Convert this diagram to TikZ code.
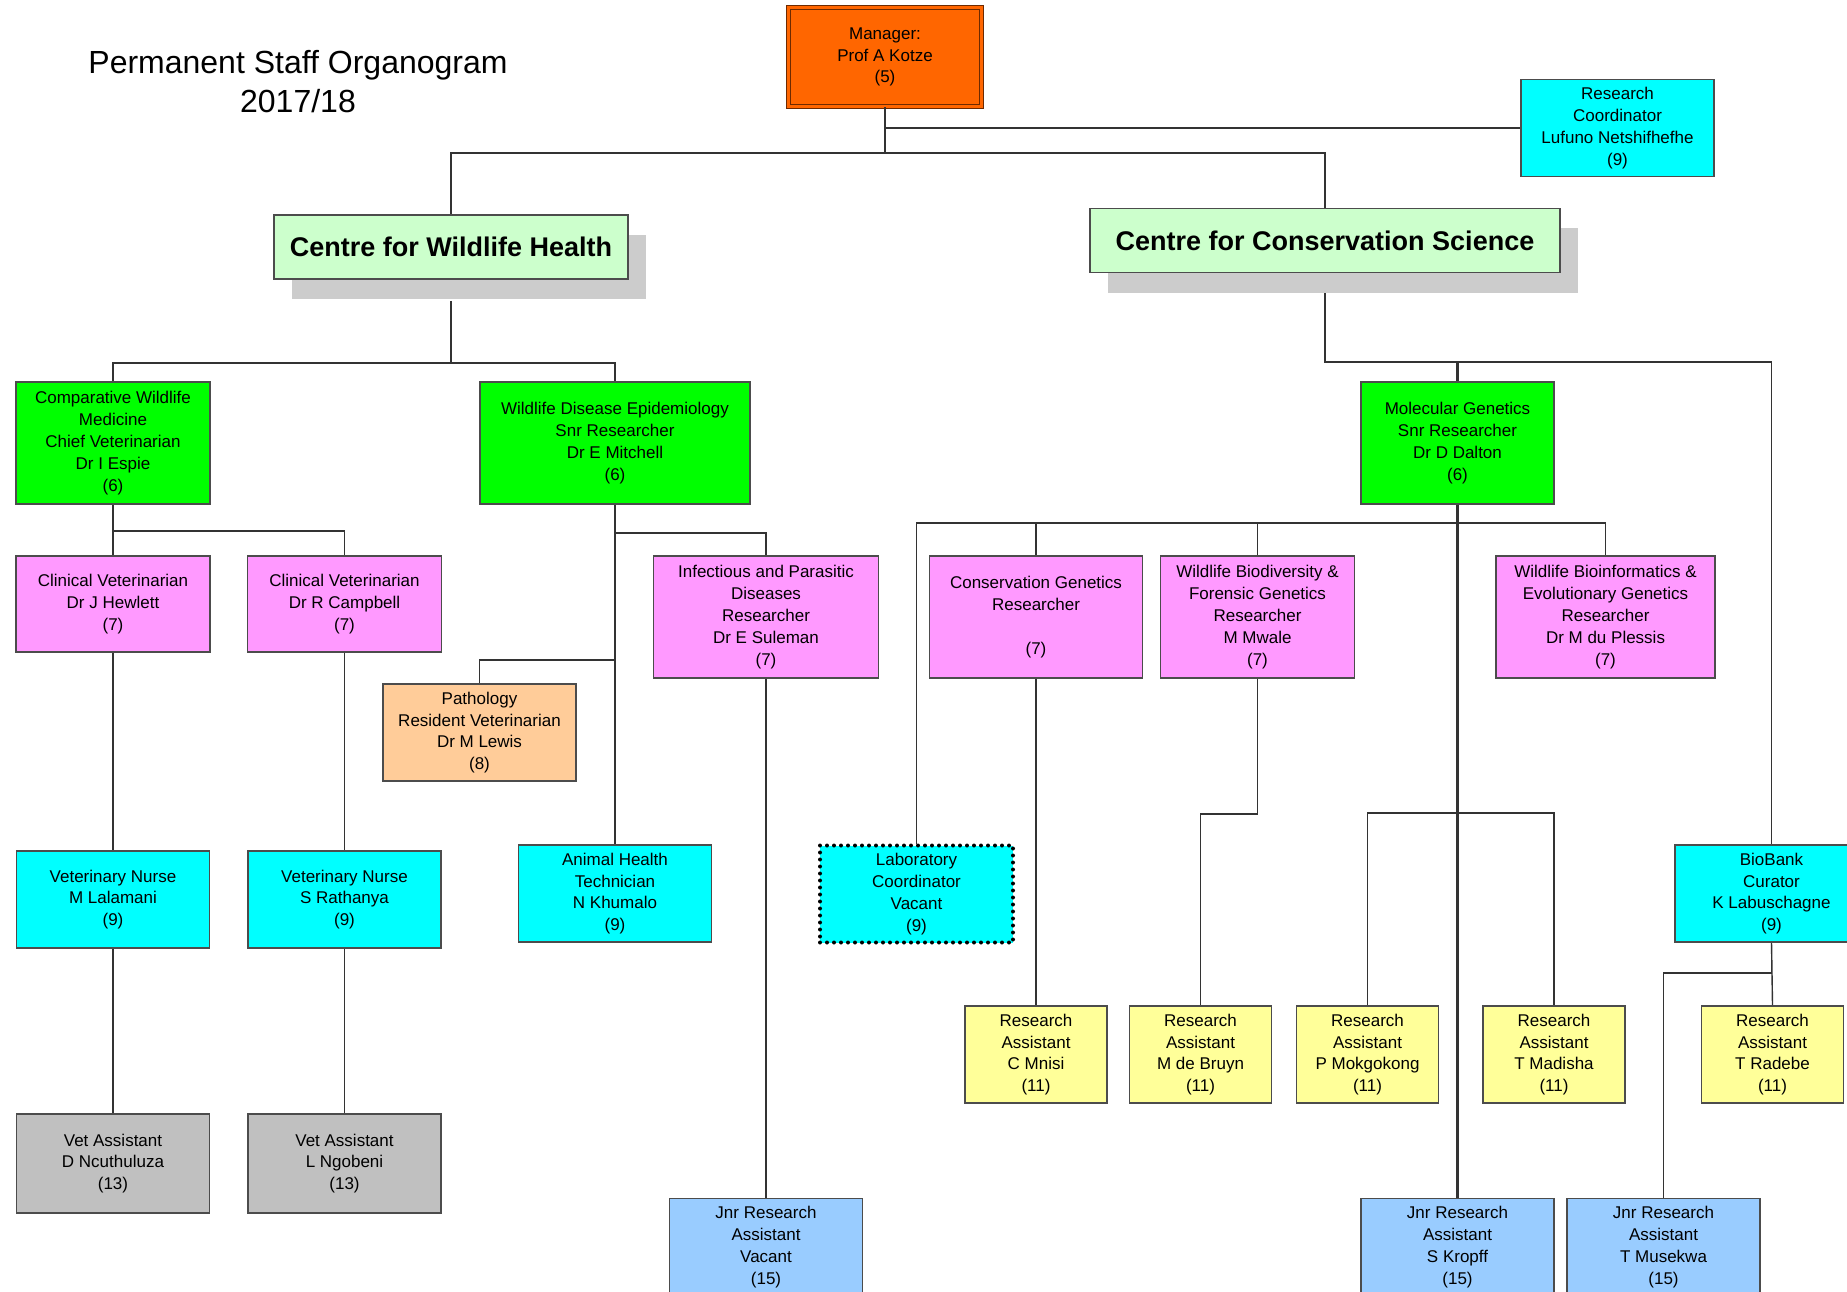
\documentclass[tikz,border=0pt]{standalone}
\usepackage{fontspec}
\setmainfont{Liberation Sans}
\usepackage{tikz}
\usetikzlibrary{shadows}
\definecolor{mgrorange}{HTML}{FF6600}
\definecolor{mgrline}{HTML}{6E2A00}
\definecolor{cyanbox}{HTML}{00FFFF}
\definecolor{greenbox}{HTML}{00FF00}
\definecolor{pinkbox}{HTML}{FF99FF}
\definecolor{peachbox}{HTML}{FFCC99}
\definecolor{yellowbox}{HTML}{FFFF99}
\definecolor{bluebox}{HTML}{99CCFF}
\definecolor{greybox}{HTML}{C0C0C0}
\definecolor{mintbox}{HTML}{CCFFCC}
\newcommand{\postfont}{\fontsize{17}{21.8}\selectfont}

\begin{document}
\begin{tikzpicture}[x=1pt, y=-1pt,
  post/.style   = {draw=black!70, line width=1.6pt, inner sep=0pt, align=center,
                   font=\postfont, minimum width=193pt, minimum height=97pt},
  boss/.style   = {post, fill=mgrorange, draw=mgrline, line width=1.4pt,
                   double=mgrorange, double distance=2.5pt, minimum height=99pt},
  centre/.style = {post, fill=mintbox, minimum height=64pt,
                   font=\fontsize{27}{30}\selectfont\bfseries,
                   drop shadow={shadow xshift=18pt, shadow yshift=-20pt,
                                fill=black!20, opacity=1}},
  head/.style   = {post, fill=greenbox, minimum height=122pt},
  role/.style   = {post, fill=pinkbox, minimum height=122pt},
  clin/.style   = {post, fill=pinkbox, minimum width=194pt, minimum height=96pt},
  tech/.style   = {post, fill=cyanbox},
  vacant/.style = {tech, draw=black, line width=4pt, dash pattern=on 0pt off 7pt,
                   line cap=round},
  vet/.style    = {post, fill=greybox, minimum height=99pt},
  asst/.style   = {post, fill=yellowbox, minimum width=142pt},
  jnr/.style    = {post, fill=bluebox},
  ttl/.style    = {align=center, inner sep=0pt, font=\fontsize{32}{39}\selectfont},
  link/.style   = {draw=black!80, line width=1.4pt},
  trunk/.style  = {link, line width=2.4pt}]
\useasboundingbox (0,0) rectangle (1847,1292);

% --- title ------------------------------------------------------------
\node[ttl] (title) at (298,82) {Permanent Staff Organogram\\2017/18};

% --- top --------------------------------------------------------------
\node[boss]   (mgr) at (885,57)     {Manager:\\Prof A Kotze\\(5)};
\node[tech]   (rc)  at (1617.5,128) {Research\\Coordinator\\Lufuno Netshifhefhe\\(9)};
\node[centre, minimum width=354pt] (cwh) at (451,247)    {Centre for Wildlife Health};
\node[centre, minimum width=470pt] (ccs) at (1325,240.5) {Centre for Conservation Science};

% --- Centre for Wildlife Health ---------------------------------------
\node[head, minimum width=194pt] (cwm) at (113,443)
      {Comparative Wildlife\\Medicine\\Chief Veterinarian\\Dr I Espie\\(6)};
\node[head, minimum width=270pt] (wde) at (615,443)
      {Wildlife Disease Epidemiology\\Snr Researcher\\Dr E Mitchell\\(6)};
\node[clin] (hew) at (113,604)   {Clinical Veterinarian\\Dr J Hewlett\\(7)};
\node[clin] (cam) at (344.5,604) {Clinical Veterinarian\\Dr R Campbell\\(7)};
\node[role, minimum width=225pt] (ipd) at (766,617)
      {Infectious and Parasitic\\Diseases\\Researcher\\Dr E Suleman\\(7)};
\node[post, fill=peachbox] (pat) at (479.5,732.5)
      {Pathology\\Resident Veterinarian\\Dr M Lewis\\(8)};
\node[tech] (nlal) at (113,899.5)   {Veterinary Nurse\\M Lalamani\\(9)};
\node[tech] (nrat) at (344.5,899.5) {Veterinary Nurse\\S Rathanya\\(9)};
\node[tech] (aht)  at (615,893.5)   {Animal Health\\Technician\\N Khumalo\\(9)};
\node[vet]  (vncu) at (113,1163.5)   {Vet Assistant\\D Ncuthuluza\\(13)};
\node[vet]  (vngo) at (344.5,1163.5) {Vet Assistant\\L Ngobeni\\(13)};
\node[jnr]  (jvac) at (766,1247)     {Jnr Research\\Assistant\\Vacant\\(15)};

% --- Centre for Conservation Science ----------------------------------
\node[head] (mg) at (1457.5,443) {Molecular Genetics\\Snr Researcher\\Dr D Dalton\\(6)};
\node[role, minimum width=213pt] (cg) at (1036,617)
      {Conservation Genetics\\Researcher\\\mbox{}\\(7)};
\node[role, minimum width=194pt] (bd) at (1257.5,617)
      {Wildlife Biodiversity \&\\Forensic Genetics\\Researcher\\M Mwale\\(7)};
\node[role, minimum width=219pt] (bif) at (1605.5,617)
      {Wildlife Bioinformatics \&\\Evolutionary Genetics\\Researcher\\Dr M du Plessis\\(7)};
\node[vacant] (lab) at (916.5,894)   {Laboratory\\Coordinator\\Vacant\\(9)};
\node[tech]   (bbk) at (1771.5,893.5) {BioBank\\Curator\\K Labuschagne\\(9)};
\node[asst] (mni) at (1036,1054.5)   {Research\\Assistant\\C Mnisi\\(11)};
\node[asst] (bru) at (1200.5,1054.5) {Research\\Assistant\\M de Bruyn\\(11)};
\node[asst] (mok) at (1367.5,1054.5) {Research\\Assistant\\P Mokgokong\\(11)};
\node[asst] (mad) at (1554,1054.5)   {Research\\Assistant\\T Madisha\\(11)};
\node[asst] (rad) at (1772.5,1054.5) {Research\\Assistant\\T Radebe\\(11)};
\node[jnr]  (jkro) at (1457.5,1247)  {Jnr Research\\Assistant\\S Kropff\\(15)};
\node[jnr]  (jmus) at (1663.5,1247)  {Jnr Research\\Assistant\\T Musekwa\\(15)};

% --- connectors: top --------------------------------------------------
\coordinate (bTop) at (885,153);
\draw[trunk] (mgr.south) -- (bTop);
\draw[link]  (mgr.south) |- (rc.west);
\draw[link]  (cwh.north) |- (bTop) -| (ccs.north);

% --- connectors: wildlife health --------------------------------------
\coordinate (bCWH) at (451,363);
\draw[trunk] ([yshift=-21pt]cwh.south) -- (bCWH);
\draw[link]  (cwm.north) |- (bCWH) -| (wde.north);
\coordinate (bCWM) at (113,531);
\draw[link] (cwm.south) -- (hew.north);
\draw[link] (bCWM) -| (cam.north);
\draw[link] (hew.south) -- (nlal.north);  \draw[link] (nlal.south) -- (vncu.north);
\draw[link] (cam.south) -- (nrat.north);  \draw[link] (nrat.south) -- (vngo.north);
\draw[link] (wde.south) -- (aht.north);
\coordinate (bWDE) at (615,533);
\draw[link] (bWDE) -| (ipd.north);
\coordinate (bPat) at (615,660);
\draw[link] (bPat) -| (pat.north);
\draw[link] (ipd.south) -- (jvac.north);

% --- connectors: conservation science ---------------------------------
\coordinate (bCCS) at (1325,362);
\draw[trunk] ([yshift=-20pt]ccs.south) -- (bCCS) -| (mg.north);
\draw[link]  (bCCS) -| (bbk.north);
\coordinate (bMG) at (1457.5,523);
\draw[trunk] (mg.south) -- (jkro.north);
\draw[link]  (lab.north) |- (bMG);
\draw[trunk] (cg.north) |- (bMG);
\draw[link]  (bd.north) |- (bMG);
\draw[link]  (bMG) -| (bif.north);
\draw[link]  (cg.south) -- (mni.north);
\draw[link]  (bd.south) -- ++(0,135) -| (bru.north);
\coordinate (bRA) at (1457.5,813);
\draw[link]  (mok.north) |- (bRA) -| (mad.north);
\draw[link]  (bbk.south) -- (rad.north);
\draw[link]  (bbk.south) -- ++(0,30) -| (jmus.north);
\end{tikzpicture}
\end{document}
